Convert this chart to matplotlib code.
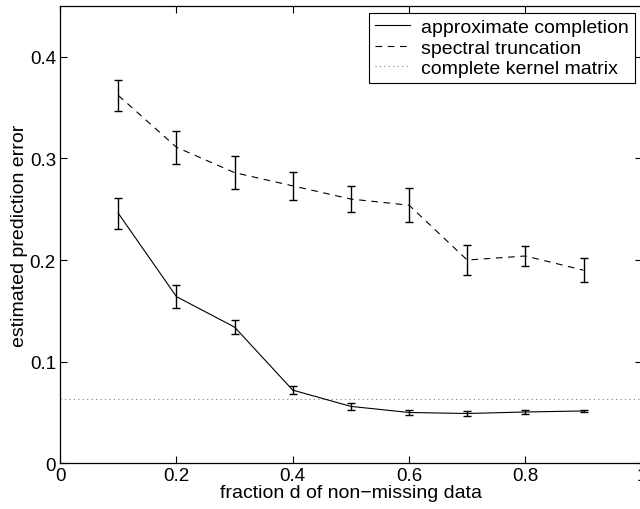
import numpy as np
import matplotlib.pyplot as plt
from matplotlib.lines import Line2D

plt.rcParams['font.family'] = ['Liberation Sans', 'DejaVu Sans']

# fraction of non-missing data
frac = [0.1, 0.2, 0.3, 0.4, 0.5, 0.6, 0.7, 0.8, 0.9]

# approximate completion: mean and error
approx_mean = [0.246, 0.164, 0.134, 0.072, 0.056, 0.050, 0.049, 0.0505, 0.0515]
approx_err = [0.015, 0.011, 0.007, 0.004, 0.0035, 0.0025, 0.0025, 0.0015, 0.001]

# spectral truncation: mean and error
spec_mean = [0.362, 0.311, 0.286, 0.273, 0.260, 0.254, 0.200, 0.204, 0.190]
spec_err = [0.015, 0.016, 0.016, 0.014, 0.013, 0.017, 0.015, 0.010, 0.012]

# complete kernel matrix (constant)
complete_err = 0.063

fig = plt.figure(figsize=(6.4, 5.1), dpi=100)
ax = fig.add_axes([0.094, 0.0896, 0.9086, 0.8967])

dash = (0, (6, 5))
dot = (0, (1, 3))

ax.errorbar(frac, approx_mean, yerr=approx_err, color='black', linewidth=0.8,
            elinewidth=1.0, capsize=3.2, capthick=1.0)
ax.errorbar(frac, spec_mean, yerr=spec_err, color='black', linewidth=0.8,
            linestyle=dash, elinewidth=1.0, capsize=3.2, capthick=1.0)
ax.axhline(complete_err, color='gray', linewidth=0.8, linestyle=dot)

ax.set_xlim(0, 1)
ax.set_ylim(0, 0.45)
ax.set_xticks([0, 0.2, 0.4, 0.6, 0.8, 1])
ax.set_xticklabels(['0', '0.2', '0.4', '0.6', '0.8', '1'])
ax.set_yticks([0, 0.1, 0.2, 0.3, 0.4])
ax.set_yticklabels(['0', '0.1', '0.2', '0.3', '0.4'])
ax.tick_params(direction='in', top=True, right=True, labelsize=13.5, length=5,
               width=0.8, pad=3)
for s in ax.spines.values():
    s.set_linewidth(0.9)

ax.set_xlabel('fraction d of non\u2212missing data', fontsize=14, labelpad=0)
ax.set_ylabel('estimated prediction error', fontsize=14, labelpad=1)

# legend with plain line handles
handles = [Line2D([], [], color='black', linewidth=0.8),
           Line2D([], [], color='black', linewidth=0.8, linestyle=dash),
           Line2D([], [], color='gray', linewidth=0.8, linestyle=dot)]
labels = ['approximate completion', 'spectral truncation', 'complete kernel matrix']
leg = ax.legend(handles, labels, loc='upper right', fontsize=14, frameon=True,
                fancybox=False, edgecolor='black', framealpha=1, borderpad=0.3,
                labelspacing=0.15, handlelength=1.8, handletextpad=0.6,
                borderaxespad=0.35)
leg.get_frame().set_linewidth(0.8)

plt.savefig('out.png', dpi=100)
